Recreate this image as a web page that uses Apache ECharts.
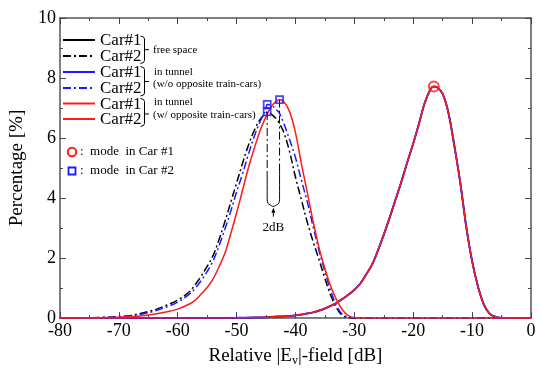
<!DOCTYPE html>
<html>
<head>
<meta charset="utf-8">
<script src="https://cdn.jsdelivr.net/npm/echarts@6/dist/echarts.min.js"></script>
<style>html,body{margin:0;padding:0;background:#fff}#main{width:540px;height:372px}</style>
</head>
<body>
<div id="main"></div>
<script>
// ---- data ----
const rightX = [-80,-60,-55,-50,-47,-45,-43,-41,-40,-39,-38,-37,-36,-35,-34,-33,-32,-31,-30,-29,-28,-27,-26,-25,-24,-23,-22,-21,-20,-19,-18,-17,-16.5,-16,-15,-14,-13,-12,-11,-10,-9,-8,-7,-6,-5,-4,0];
const car1FreeY   = [0,0,0.005,0.01,0.02,0.03,0.05,0.07,0.09,0.12,0.15,0.19,0.25,0.32,0.41,0.51,0.64,0.78,0.94,1.15,1.45,1.78,2.25,2.78,3.35,3.95,4.55,5.2,5.82,6.5,7.2,7.65,7.72,7.7,7.47,6.82,5.72,4.5,3.05,1.9,1.05,0.45,0.14,0.04,0.01,0,0];
const car1TunnelY = [0,0,0.005,0.01,0.02,0.03,0.05,0.07,0.09,0.12,0.15,0.19,0.25,0.32,0.41,0.51,0.64,0.78,0.94,1.15,1.45,1.78,2.25,2.78,3.35,3.95,4.55,5.2,5.82,6.5,7.2,7.65,7.72,7.7,7.47,6.82,5.72,4.5,3.05,1.9,1.05,0.45,0.14,0.04,0.01,0,0];
const car1OppY    = [0,0,0.005,0.01,0.02,0.03,0.05,0.07,0.09,0.12,0.15,0.19,0.25,0.32,0.41,0.51,0.64,0.78,0.94,1.15,1.45,1.78,2.25,2.78,3.35,3.95,4.55,5.2,5.82,6.5,7.2,7.65,7.72,7.7,7.47,6.82,5.72,4.5,3.05,1.9,1.05,0.45,0.14,0.04,0.01,0,0];

const leftX = [-80,-75,-72,-70,-68,-66,-64,-62,-60,-58,-57,-56,-55,-54,-53,-52,-51,-50,-49,-48,-47,-46,-45,-44.8,-44,-43,-42.7,-42,-41,-40,-39,-38,-37,-36,-35,-34,-33,-32,-31,-30,-29,0];
const car2FreeY   = [0,0.01,0.03,0.05,0.09,0.17,0.27,0.42,0.6,0.88,1.12,1.4,1.72,2.08,2.6,3.2,3.85,4.5,5.15,5.75,6.25,6.62,6.84,6.87,6.78,6.58,6.48,6.2,5.55,4.7,3.95,3.2,2.55,1.95,1.32,0.75,0.33,0.08,0.02,0,0,0];
const car2TunnelY = [0,0.01,0.02,0.04,0.08,0.14,0.23,0.36,0.53,0.8,1.0,1.25,1.55,1.9,2.4,2.95,3.55,4.2,4.8,5.45,6.05,6.55,6.98,7.12,7.08,6.9,6.82,6.5,5.95,5.35,4.6,3.88,3.05,2.25,1.55,0.9,0.4,0.12,0.03,0,0,0];
const car2OppY    = [0,0.01,0.02,0.03,0.05,0.08,0.13,0.2,0.3,0.47,0.6,0.8,1.02,1.3,1.7,2.15,2.8,3.5,4.25,5.0,5.65,6.25,6.72,6.8,7.08,7.26,7.28,7.22,6.88,6.18,5.15,4.2,3.22,2.35,1.65,1.05,0.6,0.27,0.08,0.01,0,0];

const mode1X = [-16.5];
const mode1Y = [7.72];
const mode2X = [-44.8, -44.8, -42.7];
const mode2Y = [7.12, 6.87, 7.28];

const legendLabels = ['Car#1','Car#2','Car#1','Car#2','Car#1','Car#2'];
const groupLabels = [['free space'], ['in tunnel','(w/o opposite train-cars)'], ['in tunnel','(w/ opposite train-cars)']];
const modeLabels = [':  mode  in Car #1', ':  mode  in Car #2'];
const annotText = '2dB';

// ---- build ----
const zip = (xs, ys) => xs.map((x, i) => [x, ys[i]]);
const SERIF = '"Liberation Serif","Times New Roman",serif';
const RED = '#ff1a1a', BLUE = '#1a1aff', BLACK = '#000';
const DASHDOT = [8, 3, 2, 3];

function lineSeries(name, data, color, type, width, z) {
  return { name, type: 'line', data, showSymbol: false, symbol: 'none', smooth: 0.35,
    lineStyle: { color, width, type }, z, animation: false, silent: true };
}

const annot1 = [[mode2X[1], mode2Y[1]], [mode2X[1], 4.9]];
const annot2 = [[mode2X[2], mode2Y[2]], [mode2X[2], 4.9]];
const bracket = [[mode2X[1], 4.9], [mode2X[1], 3.95], [mode2X[1] + 0.15, 3.82], [mode2X[1] + 0.5, 3.77], [(mode2X[1] + mode2X[2]) / 2, 3.72],
  [mode2X[2] - 0.5, 3.77], [mode2X[2] - 0.15, 3.82], [mode2X[2], 3.95], [mode2X[2], 4.9]];

const axisLine = { show: true, onZero: false, lineStyle: { color: '#555', width: 1.5 } };
const tick = { inside: true, length: 6, lineStyle: { color: '#444' } };
const minor = { show: true, splitNumber: 2, length: 3, lineStyle: { color: '#444' } };
const option = {
  animation: false,
  grid: { left: 51, right: 9, top: 18, bottom: 46 },
  xAxis: [{
    type: 'value', min: -80, max: 0, interval: 10,
    axisLine, axisTick: tick, minorTick: minor, splitLine: { show: false },
    axisLabel: { fontFamily: SERIF, fontSize: 18, color: '#000', margin: 4 },
    name: '{a|Relative |E}{s|v}{a||-field [dB]}', nameLocation: 'middle', nameGap: 24,
    nameTextStyle: { rich: {
      a: { fontFamily: SERIF, fontSize: 19, color: '#000', lineHeight: 22 },
      s: { fontFamily: SERIF, fontSize: 12, color: '#000', lineHeight: 22, verticalAlign: 'bottom', padding: [10, 0, 0, 0] } } }
  }, {
    type: 'value', position: 'top', min: -80, max: 0, interval: 10,
    axisLine, axisTick: tick, minorTick: minor, splitLine: { show: false }, axisLabel: { show: false }
  }],
  yAxis: [{
    type: 'value', min: 0, max: 10, interval: 2,
    axisLine, axisTick: tick, minorTick: minor, splitLine: { show: false },
    axisLabel: { fontFamily: SERIF, fontSize: 18, color: '#000', margin: 4 },
    name: 'Percentage [%]', nameLocation: 'middle', nameGap: 23,
    nameTextStyle: { fontFamily: SERIF, fontSize: 19, color: '#000' }
  }, {
    type: 'value', position: 'right', min: 0, max: 10, interval: 2,
    axisLine, axisTick: tick, minorTick: minor, splitLine: { show: false }, axisLabel: { show: false }
  }],
  series: [
    lineSeries('Car#1 free', zip(rightX, car1FreeY), BLACK, 'solid', 1.5, 2),
    lineSeries('Car#2 free', zip(leftX, car2FreeY), BLACK, DASHDOT, 1.5, 2),
    lineSeries('Car#1 tunnel', zip(rightX, car1TunnelY), BLUE, 'solid', 2, 3),
    lineSeries('Car#2 tunnel', zip(leftX, car2TunnelY), BLUE, DASHDOT, 1.5, 3),
    lineSeries('Car#1 opp', zip(rightX, car1OppY), RED, 'solid', 1.5, 4),
    lineSeries('Car#2 opp', zip(leftX, car2OppY), RED, 'solid', 1.5, 4),
    { type: 'line', data: annot1, symbol: 'none', lineStyle: { color: '#000', width: 1, type: DASHDOT }, z: 5, silent: true },
    { type: 'line', data: annot2, symbol: 'none', lineStyle: { color: '#000', width: 1, type: DASHDOT }, z: 5, silent: true },
    { type: 'line', data: bracket, symbol: 'none', smooth: 0.3, lineStyle: { color: '#000', width: 1 }, z: 5, silent: true },
    { type: 'scatter', data: zip(mode1X, mode1Y), symbol: 'circle', symbolSize: 10,
      itemStyle: { color: 'rgba(0,0,0,0)', borderColor: RED, borderWidth: 2 }, z: 10, silent: true },
    { type: 'scatter', data: zip(mode2X, mode2Y), symbol: 'rect', symbolSize: 7,
      itemStyle: { color: 'rgba(0,0,0,0)', borderColor: BLUE, borderWidth: 1.8 }, z: 10, silent: true }
  ]
};

// legend graphics (layout only)
const g = [];
const rowY = [40, 56, 72, 88, 103.5, 119];
const rowColor = [BLACK, BLACK, BLUE, BLUE, RED, RED];
const rowDash = [null, DASHDOT, null, DASHDOT, null, null];
rowY.forEach((y, i) => {
  g.push({ type: 'line', shape: { x1: 63, y1: y, x2: 95, y2: y },
    style: { stroke: rowColor[i], lineWidth: 2, lineDash: rowDash[i] } });
  g.push({ type: 'text', x: 100, y: y + 1, style: { text: legendLabels[i], font: '17px ' + SERIF, fill: '#000', verticalAlign: 'middle' } });
});
const braces = [[36, 63.5, 49.7], [66.5, 96, 81.5], [98.5, 126.5, 114]];
braces.forEach((b, i) => {
  g.push({ type: 'polyline', shape: { points: [[140.5, b[0]], [143.5, b[0] + 1], [144.5, b[0] + 3], [144.5, b[1] - 3], [143.5, b[1] - 1], [140.5, b[1]]] },
    style: { stroke: '#000', lineWidth: 1, fill: null } });
  g.push({ type: 'line', shape: { x1: 144.5, y1: b[2], x2: 149, y2: b[2] }, style: { stroke: '#000', lineWidth: 1 } });
});
g.push({ type: 'text', x: 153, y: 50, style: { text: groupLabels[0][0], font: '11px ' + SERIF, fill: '#000', verticalAlign: 'middle' } });
g.push({ type: 'text', x: 154, y: 72, style: { text: groupLabels[1][0], font: '11px ' + SERIF, fill: '#000', verticalAlign: 'middle' } });
g.push({ type: 'text', x: 153, y: 84, style: { text: groupLabels[1][1], font: '11px ' + SERIF, fill: '#000', verticalAlign: 'middle' } });
g.push({ type: 'text', x: 154, y: 102, style: { text: groupLabels[2][0], font: '11px ' + SERIF, fill: '#000', verticalAlign: 'middle' } });
g.push({ type: 'text', x: 153, y: 115.5, style: { text: groupLabels[2][1], font: '11px ' + SERIF, fill: '#000', verticalAlign: 'middle' } });
// mode legend
g.push({ type: 'circle', shape: { cx: 72, cy: 152, r: 4.2 }, style: { stroke: RED, lineWidth: 2, fill: null } });
g.push({ type: 'text', x: 80, y: 152, style: { text: modeLabels[0], font: '13px ' + SERIF, fill: '#000', verticalAlign: 'middle' } });
g.push({ type: 'rect', shape: { x: 68.5, y: 167.5, width: 7, height: 7 }, style: { stroke: BLUE, lineWidth: 1.8, fill: null } });
g.push({ type: 'text', x: 80, y: 171, style: { text: modeLabels[1], font: '13px ' + SERIF, fill: '#000', verticalAlign: 'middle' } });

const chart = echarts.init(document.getElementById('main'), null, { renderer: 'canvas' });
chart.setOption(option);

// arrow + "2dB" placed from data coordinates
const midX = (mode2X[1] + mode2X[2]) / 2;
const tip = chart.convertToPixel({ gridIndex: 0 }, [midX, 3.68]);
const tail = chart.convertToPixel({ gridIndex: 0 }, [midX, 3.38]);
const lab = chart.convertToPixel({ gridIndex: 0 }, [midX, 3.03]);
g.push({ type: 'line', shape: { x1: tip[0], y1: tip[1] + 2, x2: tail[0], y2: tail[1] }, style: { stroke: '#000', lineWidth: 1 } });
g.push({ type: 'polygon', shape: { points: [[tip[0], tip[1]], [tip[0] - 2, tip[1] + 5], [tip[0] + 2, tip[1] + 5]] }, style: { fill: '#000' } });
g.push({ type: 'text', x: lab[0], y: lab[1], style: { text: annotText, font: '13px ' + SERIF, fill: '#000', align: 'center', verticalAlign: 'middle' } });

chart.setOption({ graphic: { elements: g.map(e => Object.assign({ silent: true, z: 100 }, e)) } });
</script>
</body>
</html>
